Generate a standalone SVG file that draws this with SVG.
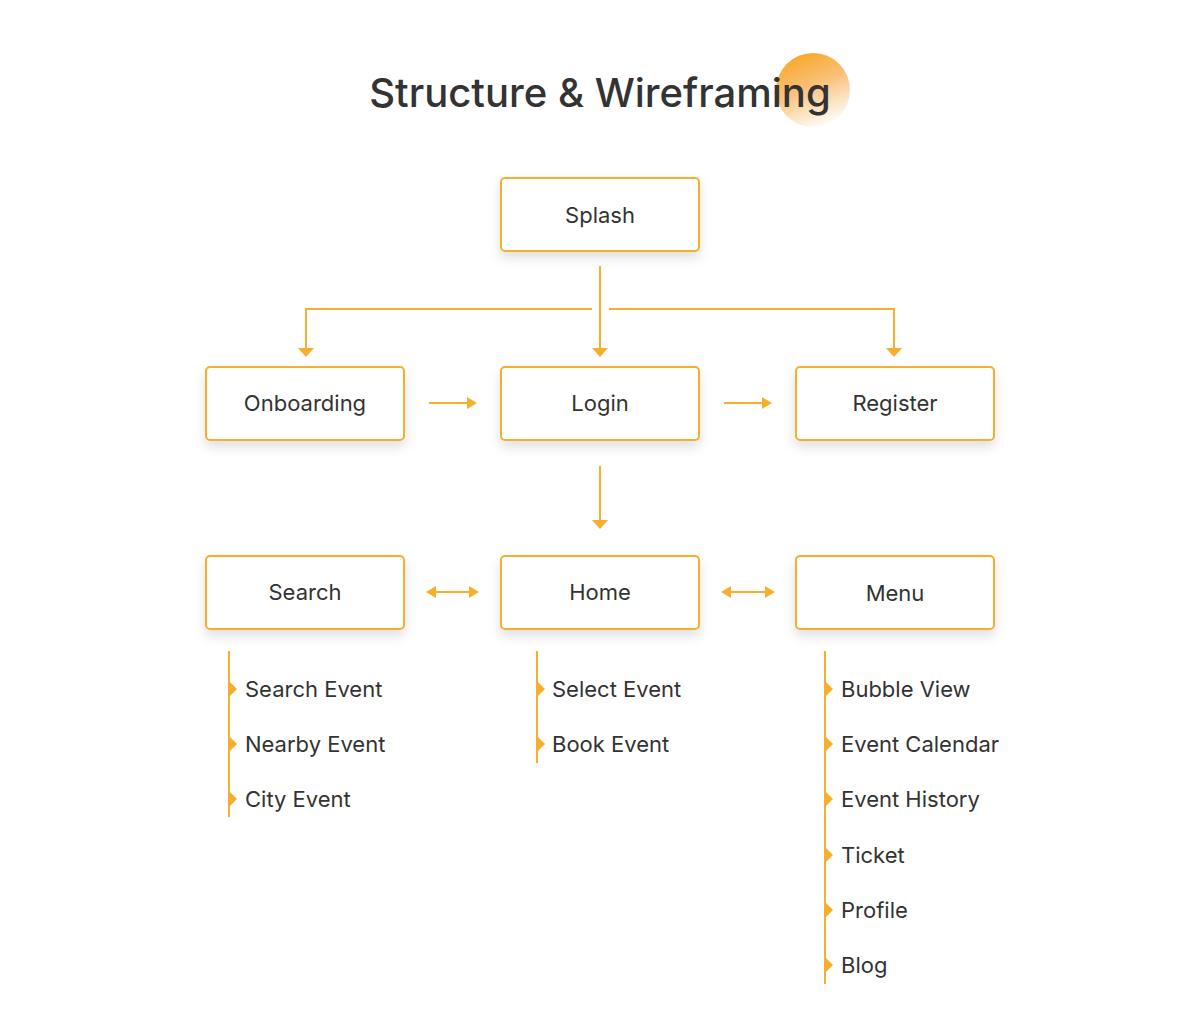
<svg xmlns="http://www.w3.org/2000/svg" width="1200" height="1028" viewBox="0 0 1200 1028">
<defs>
<style>
.box{fill:#fff;stroke:#f6ae2d;stroke-width:2;filter:url(#sh)}
.lbl{font-family:Inter,"Noto Sans",sans-serif;font-size:22px;fill:#333;text-anchor:middle;dominant-baseline:central}
.item{font-family:Inter,"Noto Sans",sans-serif;font-size:22px;fill:#333;dominant-baseline:central}
.ln{stroke:#f6ae2d;stroke-width:2;fill:none}
.tri{fill:#f6ae2d}
</style>
<filter id="sh" x="-20%" y="-30%" width="140%" height="170%">
<feDropShadow dx="0" dy="6" stdDeviation="6" flood-color="#000" flood-opacity="0.12"/>
</filter>
<linearGradient id="cg" x1="0.3" y1="0" x2="0.7" y2="1">
<stop offset="0" stop-color="#f7a829"/>
<stop offset="0.45" stop-color="#fac17a"/>
<stop offset="1" stop-color="#fff" stop-opacity="0.9"/>
</linearGradient>
<marker id="ah" viewBox="0 0 9 16" refX="0" refY="8" markerWidth="9" markerHeight="16" markerUnits="userSpaceOnUse" orient="auto-start-reverse">
<path d="M0,0 L9,8 L0,16 Z" fill="#f6ae2d"/>
</marker>
<marker id="ah2" viewBox="0 0 10 12" refX="0" refY="6" markerWidth="10" markerHeight="12" markerUnits="userSpaceOnUse" orient="auto-start-reverse">
<path d="M0,0 L10,6 L0,12 Z" fill="#f6ae2d"/>
</marker>
</defs>
<rect width="1200" height="1028" fill="#fff"/>
<g id="title">
<circle cx="813" cy="90" r="37" fill="url(#cg)"/>
<text x="600" y="107" font-family="Inter,'Noto Sans',sans-serif" font-size="40" font-weight="500" fill="#333" text-anchor="middle">Structure &amp; Wireframing</text>
</g>
<g id="connectors">
<line class="ln" x1="600" y1="266" x2="600" y2="348" marker-end="url(#ah)"/>
<polyline class="ln" points="592,309 306,309 306,348" marker-end="url(#ah)"/>
<polyline class="ln" points="609,309 894,309 894,348" marker-end="url(#ah)"/>
<line class="ln" x1="429" y1="403" x2="467" y2="403" marker-end="url(#ah2)"/>
<line class="ln" x1="724" y1="403" x2="762" y2="403" marker-end="url(#ah2)"/>
<line class="ln" x1="600" y1="466" x2="600" y2="520" marker-end="url(#ah)"/>
<line class="ln" x1="436" y1="592" x2="469" y2="592" marker-start="url(#ah2)" marker-end="url(#ah2)"/>
<line class="ln" x1="731" y1="592" x2="765" y2="592" marker-start="url(#ah2)" marker-end="url(#ah2)"/>
<line class="ln" x1="229" y1="651" x2="229" y2="817"/>
<line class="ln" x1="537" y1="651" x2="537" y2="763"/>
<line class="ln" x1="825" y1="651" x2="825" y2="984"/>
</g>
<g id="n-splash"><rect class="box" x="501" y="178" width="198" height="73" rx="4"/><text class="lbl" x="600" y="215">Splash</text></g>
<g id="n-onboarding"><rect class="box" x="206" y="367" width="198" height="73" rx="4"/><text class="lbl" x="305" y="403">Onboarding</text></g>
<g id="n-login"><rect class="box" x="501" y="367" width="198" height="73" rx="4"/><text class="lbl" x="600" y="403">Login</text></g>
<g id="n-register"><rect class="box" x="796" y="367" width="198" height="73" rx="4"/><text class="lbl" x="895" y="403">Register</text></g>
<g id="n-search"><rect class="box" x="206" y="556" width="198" height="73" rx="4"/><text class="lbl" x="305" y="592">Search</text></g>
<g id="n-home"><rect class="box" x="501" y="556" width="198" height="73" rx="4"/><text class="lbl" x="600" y="592">Home</text></g>
<g id="n-menu"><rect class="box" x="796" y="556" width="198" height="73" rx="4"/><text class="lbl" x="895" y="593">Menu</text></g>
<g id="list-search">
<path class="tri" d="M229,681 L237,689 L229,697 Z"/><text class="item" x="245" y="689">Search Event</text>
<path class="tri" d="M229,736 L237,744 L229,752 Z"/><text class="item" x="245" y="744">Nearby Event</text>
<path class="tri" d="M229,791 L237,799 L229,807 Z"/><text class="item" x="245" y="799">City Event</text>
</g>
<g id="list-home">
<path class="tri" d="M537,681 L545,689 L537,697 Z"/><text class="item" x="552" y="689">Select Event</text>
<path class="tri" d="M537,736 L545,744 L537,752 Z"/><text class="item" x="552" y="744">Book Event</text>
</g>
<g id="list-menu">
<path class="tri" d="M825,681 L833,689 L825,697 Z"/><text class="item" x="841" y="689">Bubble View</text>
<path class="tri" d="M825,736 L833,744 L825,752 Z"/><text class="item" x="841" y="744">Event Calendar</text>
<path class="tri" d="M825,791 L833,799 L825,807 Z"/><text class="item" x="841" y="799">Event History</text>
<path class="tri" d="M825,847 L833,855 L825,863 Z"/><text class="item" x="841" y="855">Ticket</text>
<path class="tri" d="M825,902 L833,910 L825,918 Z"/><text class="item" x="841" y="910">Profile</text>
<path class="tri" d="M825,957 L833,965 L825,973 Z"/><text class="item" x="841" y="965">Blog</text>
</g>
</svg>
